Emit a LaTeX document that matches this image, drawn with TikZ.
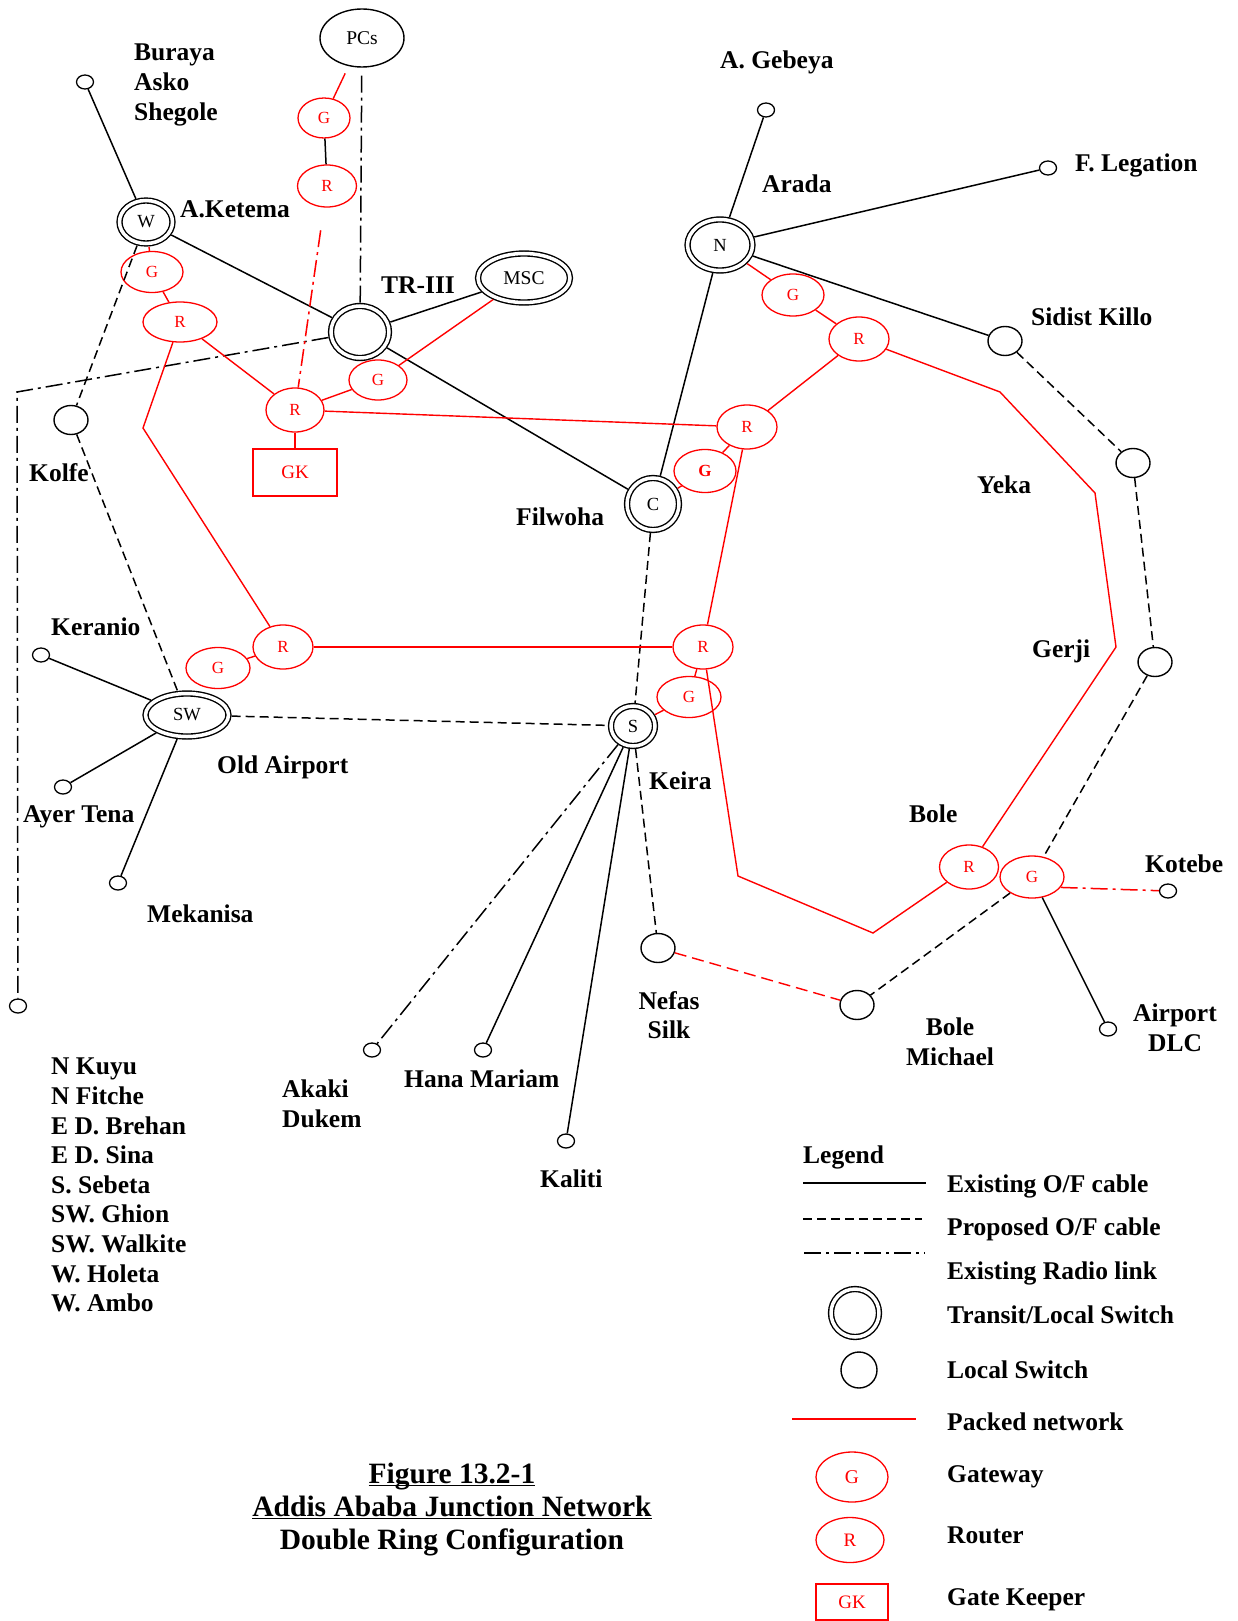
\documentclass[tikz,border=0pt]{standalone}
\usepackage{fontspec}
\setmainfont{Liberation Serif}
\usepackage{tikz}
\usetikzlibrary{shapes.geometric}
\definecolor{pktred}{RGB}{255,0,0}
\newsavebox{\ulinebox}
\newcommand{\ulined}[1]{\sbox{\ulinebox}{#1}\rlap{\rule[-2.5pt]{\wd\ulinebox}{1.6pt}}\usebox{\ulinebox}}

\begin{document}
\begin{tikzpicture}[x=1pt, y=-1pt]
% Define styles
\tikzstyle{lbl} = [inner sep=0pt, font=\fontsize{25.5}{29.6}\selectfont\bfseries]
\tikzstyle{xsw} = [ellipse, draw, double, double distance=3.5pt, line width=1.4pt, inner sep=0pt, outer sep=3.2pt, font=\fontsize{18.5}{18.5}\selectfont]
\tikzstyle{lsw} = [ellipse, draw, line width=1.4pt, inner sep=0pt, minimum width=34pt, minimum height=29pt]
\tikzstyle{tsw} = [ellipse, draw, line width=1.3pt, inner sep=0pt, minimum width=17pt, minimum height=14pt]
\tikzstyle{gw} = [ellipse, draw=pktred, text=pktred, line width=1.3pt, inner sep=0pt, font=\fontsize{17}{17}\selectfont]
\tikzstyle{gkbox} = [rectangle, draw=pktred, text=pktred, line width=1.3pt, inner sep=0pt, font=\fontsize{19}{19}\selectfont]
\tikzstyle{cable} = [line width=1.5pt]
\tikzstyle{prop} = [cable, dash pattern=on 9pt off 5pt]
\tikzstyle{radio} = [cable, dash pattern=on 17pt off 5pt on 3pt off 5pt]
\tikzstyle{pkt} = [line width=1.4pt, draw=pktred]

\useasboundingbox (0,0) rectangle (1237,1621);

% Transit/local switches
\node [xsw, minimum width=53pt, minimum height=43pt] (ak) at (146,222) {W};
\node [xsw, minimum width=58pt, minimum height=52pt] (tr) at (360,332) {};
\node [xsw, minimum width=92pt, minimum height=49pt, font=\fontsize{19.5}{19.5}\selectfont] (msc) at (524,278) {MSC};
\node [xsw, minimum width=65pt, minimum height=51pt] (ar) at (720,245) {N};
\node [xsw, minimum width=52pt, minimum height=52pt] (fw) at (653,504) {C};
\node [xsw, minimum width=83pt, minimum height=43pt] (oa) at (187,715) {SW};
\node [xsw, minimum width=44pt, minimum height=40pt] (ke) at (633,726) {S};
\node [ellipse, draw, line width=1.4pt, inner sep=0pt, minimum width=84pt, minimum height=58pt, font=\fontsize{19.5}{19.5}\selectfont] (pcs) at (362,38) {PCs};

% Local switches
\node [lsw] (kolfe) at (71,420) {};
\node [lsw] (sidist) at (1005,341) {};
\node [lsw] (yeka) at (1133,463) {};
\node [lsw] (gerji) at (1155,662) {};
\node [lsw] (nefas) at (658,948) {};
\node [lsw] (bmich) at (857,1005) {};

\node [tsw] (buraya) at (85,82) {};
\node [tsw] (gebeya) at (766,110) {};
\node [tsw] (legat) at (1048,168) {};
\node [tsw] (keran) at (41,655) {};
\node [tsw] (ayer) at (63,787) {};
\node [tsw] (mekan) at (118,883) {};
\node [tsw] (west) at (18,1006) {};
\node [tsw] (akaki) at (372,1050) {};
\node [tsw] (hana) at (483,1050) {};
\node [tsw] (kaliti) at (566,1141) {};
\node [tsw] (kotebe) at (1168,891) {};
\node [tsw] (adlc) at (1108,1029) {};

% Gateways, routers, gate keeper
\node [gw, minimum width=52pt, minimum height=40pt] (gpc) at (324,118) {G};
\node [gw, minimum width=59pt, minimum height=42pt] (rpc) at (327,186) {R};
\node [gw, minimum width=62pt, minimum height=41pt] (gak) at (152,272) {G};
\node [gw, minimum width=74pt, minimum height=40pt] (rak) at (180,322) {R};
\node [gw, minimum width=58pt, minimum height=44pt] (rgk) at (295,410) {R};
\node [gw, minimum width=58pt, minimum height=40pt] (gtr) at (378,380) {G};
\node [gkbox, minimum width=84pt, minimum height=47pt] (gk) at (295,472.5) {GK};
\node [gw, minimum width=62pt, minimum height=42pt] (gar) at (793,295) {G};
\node [gw, minimum width=60pt, minimum height=44pt] (rar) at (859,339) {R};
\node [gw, minimum width=60pt, minimum height=44pt] (rfw) at (747,427) {R};
\node [gw, minimum width=62pt, minimum height=43pt, font=\fontsize{17}{17}\selectfont\bfseries] (gfw) at (705,471) {G};
\node [gw, minimum width=60pt, minimum height=44pt] (rkr) at (283,647) {R};
\node [gw, minimum width=64pt, minimum height=41pt] (gkr) at (218,668) {G};
\node [gw, minimum width=60pt, minimum height=44pt] (rke) at (703,647) {R};
\node [gw, minimum width=64pt, minimum height=41pt] (gke) at (689,697) {G};
\node [gw, minimum width=59pt, minimum height=44pt] (rbo) at (969,867) {R};
\node [gw, minimum width=64pt, minimum height=42pt] (gbo) at (1032,877) {G};

% Bends
\coordinate (c1) at (17,392);
\coordinate (c2) at (143,428);
\coordinate (c3) at (1000,392);
\coordinate (c4) at (1095,493);
\coordinate (c5) at (1116,647);
\coordinate (c6) at (873,933);
\coordinate (c7) at (738,876);

% Place labels
\node [lbl, anchor=north west, align=left] (lbBuraya) at (134,44) {Buraya\\Asko\\Shegole};
\node [lbl, anchor=base west] (lbAketema) at (180,218) {A.Ketema};
\node [lbl, anchor=base west] (lbTr) at (381,293) {TR-III};
\node [lbl, anchor=base west] (lbGebeya) at (720,69) {A. Gebeya};
\node [lbl, anchor=base west] (lbArada) at (762,193) {Arada};
\node [lbl, anchor=base west] (lbLegat) at (1075,172) {F. Legation};
\node [lbl, anchor=base west] (lbSidist) at (1031,325) {Sidist Killo};
\node [lbl, anchor=base west] (lbKolfe) at (29,481) {Kolfe};
\node [lbl, anchor=base west] (lbFilwoha) at (516,525) {Filwoha};
\node [lbl, anchor=base west] (lbYeka) at (977,493) {Yeka};
\node [lbl, anchor=base west] (lbKeranio) at (51,635) {Keranio};
\node [lbl, anchor=base west] (lbGerji) at (1032,657) {Gerji};
\node [lbl, anchor=base west] (lbOld) at (217,773) {Old Airport};
\node [lbl, anchor=base west] (lbKeira) at (649,789) {Keira};
\node [lbl, anchor=base west] (lbAyer) at (23,822) {Ayer Tena};
\node [lbl, anchor=base west] (lbBole) at (909,822) {Bole};
\node [lbl, anchor=base west] (lbKotebe) at (1145,872) {Kotebe};
\node [lbl, anchor=base west] (lbMekan) at (147,922) {Mekanisa};
\node [lbl, anchor=north, align=center] (lbNefas) at (669,991) {Nefas\\Silk};
\node [lbl, anchor=north, align=center] (lbBmich) at (950,1018) {Bole\\Michael};
\node [lbl, anchor=north, align=center] (lbAdlc) at (1175,1004) {Airport\\DLC};
\node [lbl, anchor=north west, align=left] (lbAkaki) at (282,1080) {Akaki\\Dukem};
\node [lbl, anchor=base west] (lbHana) at (404,1087) {Hana Mariam};
\node [lbl, anchor=base west] (lbKaliti) at (540,1187) {Kaliti};
\node [lbl, anchor=north west, align=left] (lbList) at (51,1058) {N Kuyu\\N Fitche\\E D. Brehan\\E D. Sina\\S. Sebeta\\SW. Ghion\\SW. Walkite\\W. Holeta\\W. Ambo};

% Existing O/F cable
\draw [cable] (buraya) -- (ak);
\draw [cable] (ak) -- (tr);
\draw [cable] (tr) -- (msc);
\draw [cable] (tr) -- (fw);
\draw [cable] (gebeya) -- (ar);
\draw [cable] (ar) -- (legat);
\draw [cable] (ar) -- (sidist);
\draw [cable] (ar) -- (fw);
\draw [cable] (gpc) -- (rpc);
\draw [cable] (keran) -- (oa);
\draw [cable] (ayer) -- (oa);
\draw [cable] (mekan) -- (oa);
\draw [cable] (ke) -- (hana);
\draw [cable] (ke) -- (kaliti);
\draw [cable] (gbo) -- (adlc);

% Proposed O/F cable
\draw [prop] (ak) -- (kolfe);
\draw [prop] (kolfe) -- (oa);
\draw [prop] (oa) -- (ke);
\draw [prop] (fw) -- (ke);
\draw [prop] (ke) -- (nefas);
\draw [prop] (sidist) -- (yeka);
\draw [prop] (yeka) -- (gerji);
\draw [prop] (gerji) -- (gbo);
\draw [prop] (gbo) -- (bmich);

% Existing radio link
\draw [radio, shorten <=8pt] (pcs) -- (tr);
\draw [radio] (tr) -- (c1) -- (west);
\draw [radio] (ke) -- (akaki);
\draw [pkt, radio, shorten <=23pt] (rpc) -- (rgk);
\draw [pkt, radio] (rgk) -- (gk);
\draw [pkt, radio] (gbo.-20) -- (kotebe);

% Packed network
\draw [pkt, shorten <=8pt] (pcs) -- (gpc);
\draw [pkt] (ak) -- (gak);
\draw [pkt] (gak) -- (rak);
\draw [pkt] (rak) -- (rgk);
\draw [pkt] (rak) -- (c2) -- (rkr);
\draw [pkt] (rgk) -- (gtr);
\draw [pkt] (gtr) -- (msc);
\draw [pkt] (rgk) -- (rfw);
\draw [pkt] (ar) -- (gar);
\draw [pkt] (gar) -- (rar);
\draw [pkt] (rar) -- (rfw);
\draw [pkt] (rar) -- (c3) -- (c4) -- (c5) -- (rbo);
\draw [pkt] (rfw) -- (gfw);
\draw [pkt] (fw) -- (gfw);
\draw [pkt] (rfw) -- (rke);
\draw [pkt] (rkr) -- (gkr);
\draw [pkt] (rkr) -- (rke);
\draw [pkt] (rke) -- (gke);
\draw [pkt] (gke) -- (ke);
\draw [pkt] (rbo) -- (c6) -- (c7) -- (rke);
\draw [pkt, dash pattern=on 12pt off 6pt] (nefas) -- (bmich);

% Legend
\node [lbl, anchor=base west] (lgTitle) at (803,1163) {Legend};
\draw [cable] (803,1183) -- (926,1183);
\draw [prop] (803,1219) -- (922,1219);
\draw [radio] (804,1253) -- (925,1253);
\node [xsw, minimum width=48pt, minimum height=48pt] (lgts) at (855,1313) {};
\node [lsw, minimum width=36pt, minimum height=36pt] (lgls) at (859,1370) {};
\draw [pkt] (792,1419) -- (916,1419);
\node [gw, minimum width=72pt, minimum height=50pt, font=\fontsize{19.5}{19.5}\selectfont] (lgg) at (852,1477) {G};
\node [gw, minimum width=68pt, minimum height=45pt, font=\fontsize{19}{19}\selectfont] (lgr) at (850,1540) {R};
\node [gkbox, minimum width=72pt, minimum height=36pt] (lggk) at (852,1602) {GK};
\node [lbl, anchor=base west] (lgA) at (947,1192) {Existing O/F cable};
\node [lbl, anchor=base west] (lgB) at (947,1235) {Proposed O/F cable};
\node [lbl, anchor=base west] (lgC) at (947,1279) {Existing Radio link};
\node [lbl, anchor=base west] (lgD) at (947,1323) {Transit/Local Switch};
\node [lbl, anchor=base west] (lgE) at (947,1378) {Local Switch};
\node [lbl, anchor=base west] (lgF) at (947,1430) {Packed network};
\node [lbl, anchor=base west] (lgG) at (947,1482) {Gateway};
\node [lbl, anchor=base west] (lgH) at (947,1543) {Router};
\node [lbl, anchor=base west] (lgI) at (947,1605) {Gate Keeper};

% Title
\node [inner sep=0pt, anchor=north, align=center, font=\fontsize{29.5}{33}\selectfont\bfseries] (title) at (452,1463)
  {\ulined{Figure 13.2-1}\\\ulined{Addis Ababa Junction Network}\\Double Ring Configuration};
\end{tikzpicture}
\end{document}
